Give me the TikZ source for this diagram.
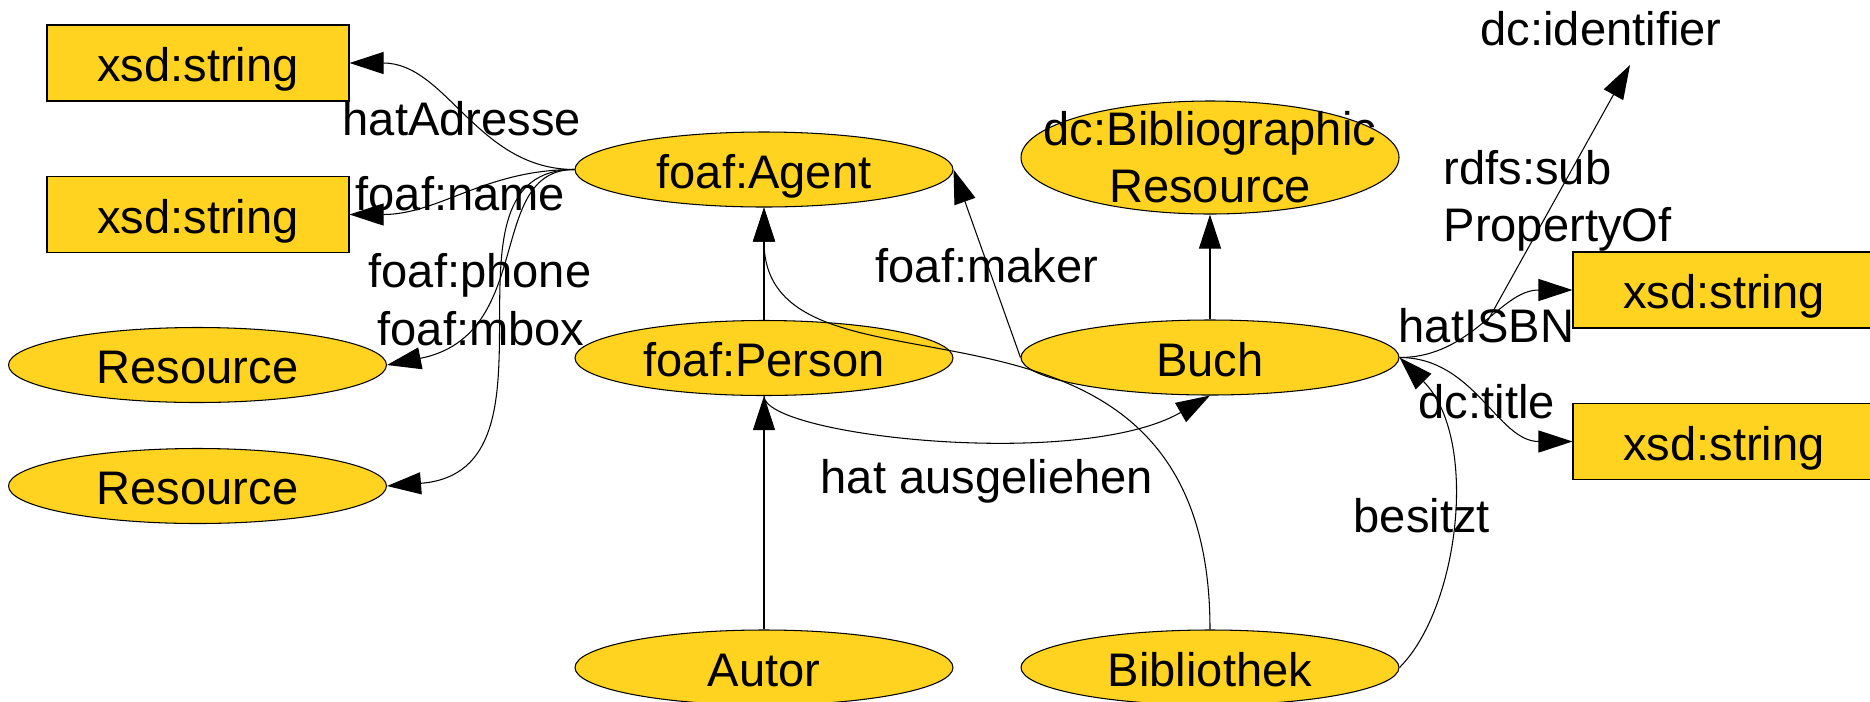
\documentclass[tikz,border=0pt]{standalone}
\usepackage{fontspec}
\setmainfont{Liberation Sans}
\usetikzlibrary{shapes.geometric,arrows.meta}

\definecolor{rdfyellow}{HTML}{FFD320}
\tikzset{
    entity/.style={ellipse, draw, fill=rdfyellow, line width=0.3pt, inner sep=0pt,
        minimum width=3.78cm, minimum height=0.75cm, text height=10.8pt, text depth=0pt},
    literal/.style={rectangle, draw, fill=rdfyellow, line width=0.3pt, inner sep=0pt,
        minimum width=3.02cm, minimum height=0.76cm, text height=10.8pt, text depth=0pt},
    lbl/.style={anchor=base west, inner sep=0pt},
    arr/.style={-{Triangle[length=0.34cm,width=0.22cm]}, line width=0.3pt}
}

\begin{document}
\begin{tikzpicture}[font=\fontsize{13.4}{16.2}\selectfont]
    \useasboundingbox (0,0) rectangle (18.70,-7.01);

    \node[literal] (S1) at (1.98,-0.63) {xsd:string};
    \node[literal] (S2) at (1.98,-2.145) {xsd:string};
    \node[entity] (R1) at (1.975,-3.65) {Resource};
    \node[entity] (R2) at (1.975,-4.86) {Resource};
    \node[entity] (Agent) at (7.64,-1.695) {foaf:Agent};
    \node[entity] (Person) at (7.64,-3.58) {foaf:Person};
    \node[entity] (Autor) at (7.64,-6.675) {Autor};
    \node[entity, minimum height=1.13cm,
        label={[align=center]center:dc:Bibliographic\\Resource}] (BibRes) at (12.10,-1.575) {};
    \node[entity] (Buch) at (12.10,-3.575) {Buch};
    \node[entity] (Bibliothek) at (12.10,-6.675) {Bibliothek};
    \node[literal] (S3) at (17.24,-2.90) {xsd:string};
    \node[literal] (S4) at (17.24,-4.415) {xsd:string};
    \node[lbl] (ident) at (14.80,-0.45) {dc:identifier};

    % edge labels
    \node[lbl] (lAdr) at (3.42,-1.35) {hatAdresse};
    \node[lbl] (lName) at (3.55,-2.10) {foaf:name};
    \node[lbl] (lPhone) at (3.68,-2.87) {foaf:phone};
    \node[lbl] (lMbox) at (3.77,-3.45) {foaf:mbox};
    \node[lbl] (lMaker) at (8.75,-2.82) {foaf:maker};
    \node[lbl] (lLoan) at (8.20,-4.93) {hat ausgeliehen};
    \node[lbl] (lOwns) at (13.53,-5.32) {besitzt};
    \node[lbl] (lIsbn) at (13.98,-3.42) {hatISBN};
    \node[lbl] (lTitle) at (14.18,-4.18) {dc:title};
    \node[lbl, align=left] (lSub) at (14.43,-2.41) {rdfs:sub\\PropertyOf};

    \draw[arr] (Agent.west) to[out=180,in=0] (S1.east);
    \draw[arr] (Agent.west) to[out=180,in=0] (S2.east);
    \draw[arr] (Agent.west) .. controls +(-0.9,0) and +(1.5,0.3) .. (R1.east);
    \draw[arr] (Agent.west) .. controls +(-1.5,0) and +(1.89,0.15) .. (R2.east);
    \draw[arr] (Person.north) -- (Agent.south);
    \draw[arr] (Autor.north) -- (Person.south);
    \draw[arr] (Buch.north) -- (BibRes.south);
    \draw[arr] (Buch.west) -- (Agent.east);
    \draw[arr] (Person.south) .. controls +(0,-0.4) and +(-1.3,-0.75) .. (Buch.south);
    \draw[arr] (Bibliothek.north) .. controls +(0,3.9) and +(0,-2.18) .. (Agent.south);
    \draw[arr] (Bibliothek.east) .. controls +(0.6,0.6) and +(0.8,-0.8) .. (Buch.east);
    \draw[arr] (Buch.east) to[out=0,in=180] coordinate[pos=0.5] (isbnMid) (S3.west);
    \draw[arr] (Buch.east) to[out=0,in=180] (S4.west);
    \draw[arr] (isbnMid) -- ([xshift=1.5cm,yshift=-0.2cm]ident.base west);
\end{tikzpicture}
\end{document}
